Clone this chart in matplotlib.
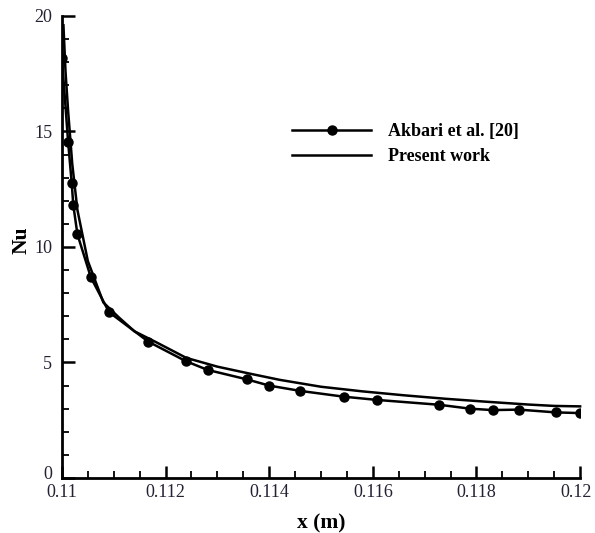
import matplotlib.pyplot as plt
from matplotlib.ticker import MultipleLocator, FixedFormatter, FixedLocator
from matplotlib.transforms import ScaledTranslation

# Akbari et al. [20] (symbols)
akbari_x = [0.11, 0.11012, 0.11019, 0.11022, 0.1103, 0.11056, 0.11091, 0.11167,
            0.11239, 0.11281, 0.11357, 0.114, 0.1146, 0.11544, 0.11608, 0.11728,
            0.11788, 0.11831, 0.11882, 0.11953, 0.12]
akbari_nu = [18.2, 14.56, 12.76, 11.82, 10.55, 8.68, 7.18, 5.9,
             5.06, 4.68, 4.27, 4.0, 3.77, 3.52, 3.38, 3.17,
             3.0, 2.94, 2.96, 2.84, 2.81]

# present work (line)
present_x = [0.11003, 0.11007, 0.11012, 0.1102, 0.1103, 0.1105, 0.1108, 0.1111, 0.1114,
             0.1118, 0.1124, 0.113, 0.1136, 0.1142, 0.115, 0.1158, 0.1166, 0.1174,
             0.1182, 0.119, 0.1195, 0.12]
present_nu = [19.6, 17.6, 15.9, 13.6, 11.6, 9.4, 7.6, 6.95, 6.35,
              5.9, 5.2, 4.82, 4.53, 4.25, 3.95, 3.75, 3.58, 3.43,
              3.3, 3.18, 3.12, 3.1]

xticks = [0.11, 0.112, 0.114, 0.116, 0.118, 0.12]
xticklabels = ['0.11', '0.112', '0.114', '0.116', '0.118', '0.12']
yticks = [0, 5, 10, 15, 20]
yticklabels = ['0', '5', '10', '15', '20']

plt.rcParams['font.family'] = ['Liberation Serif', 'DejaVu Serif']

fig = plt.figure(figsize=(5.95, 5.33), dpi=100)
ax = fig.add_axes([0.104, 0.1032, 0.871, 0.8668])

ax.plot(akbari_x, akbari_nu, color='black', lw=1.8, marker='o', ms=6.5,
        label='Akbari et al. [20]')
ax.plot(present_x, present_nu, color='black', lw=1.8, label='Present work',
        clip_on=False)

ax.set_xlim(0.11, 0.12)
ax.set_ylim(0, 20)

ax.xaxis.set_major_locator(FixedLocator(xticks))
ax.xaxis.set_major_formatter(FixedFormatter(xticklabels))
ax.xaxis.set_minor_locator(MultipleLocator(0.0005))
ax.yaxis.set_major_locator(FixedLocator(yticks))
ax.yaxis.set_major_formatter(FixedFormatter(yticklabels))
ax.yaxis.set_minor_locator(MultipleLocator(1))

for s in ['top', 'right']:
    ax.spines[s].set_visible(False)
for s in ['left', 'bottom']:
    ax.spines[s].set_linewidth(2)

ax.tick_params(which='major', direction='in', length=9, width=1.8,
               labelsize=13, labelcolor='#222233')
ax.tick_params(axis='x', which='major', pad=4)
ax.tick_params(axis='y', which='major', pad=7)
ax.tick_params(which='minor', direction='in', length=5, width=1.3)

# nudge the y "0" up and the last x label left so nothing collides or gets cut
fig.canvas.draw()
ylab0 = ax.get_yticklabels()[0]
ylab0.set_transform(ylab0.get_transform() + ScaledTranslation(0, 4 / 72, fig.dpi_scale_trans))
xlast = ax.get_xticklabels()[-1]
xlast.set_transform(xlast.get_transform() + ScaledTranslation(-3 / 72, 0, fig.dpi_scale_trans))

ax.set_xlabel('x (m)', fontsize=15.5, fontweight='bold', labelpad=9)
ax.set_ylabel('Nu', fontsize=15.5, fontweight='bold')
ax.yaxis.set_label_coords(-0.058, 0.515)

leg = ax.legend(loc='center left', bbox_to_anchor=(0.444, 0.722), frameon=False,
                handlelength=4.4, prop={'weight': 'bold', 'size': 13},
                labelspacing=0.45, handletextpad=0.9, borderpad=0,
                borderaxespad=0)

fig.savefig('out.png', dpi=100)
